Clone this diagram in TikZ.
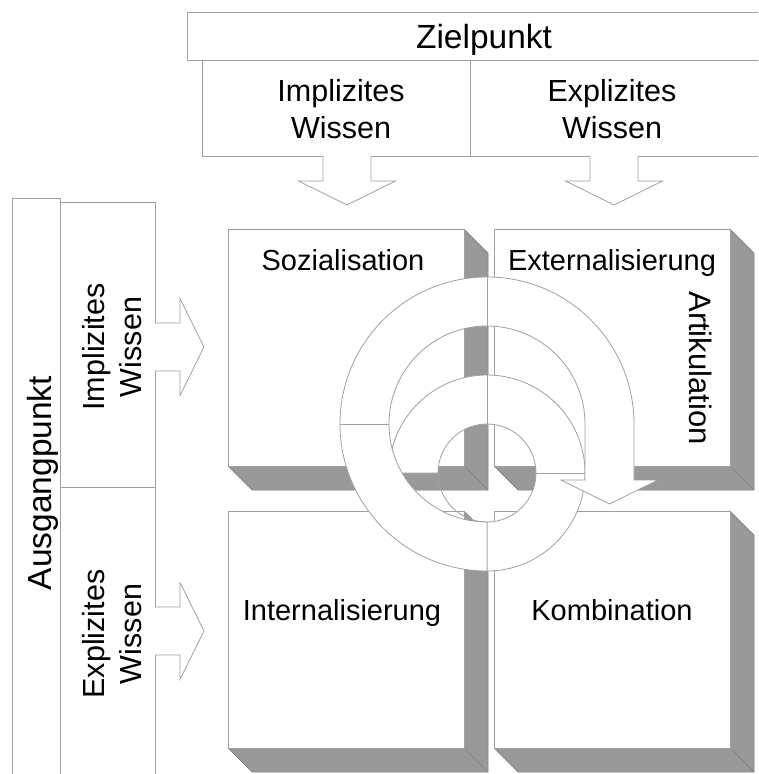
\documentclass[tikz,border=0pt]{standalone}
\usepackage{fontspec}
\setmainfont{Liberation Sans}
\definecolor{edge}{HTML}{A0A0A0}
\definecolor{shade}{HTML}{999999}
\definecolor{shadeedge}{HTML}{7F7F7F}
\newcommand\mycube[3]{%
  \filldraw[shadowpart] (#2+236,#3) -- ++(24,-24) -- ++(0,-237) -- ++(-236,0) -- ++(-24,24) -- ++(236,0) -- cycle;
  \draw[shadowfold] (#2+236,#3-237) -- ++(24,-24);
  \node[frame, minimum width=236pt, minimum height=237pt, anchor=north west] (#1) at (#2,#3) {};}
\newcommand\mydownarrow[1]{%
  \fill[white] (#1) ++(-23.6,1) rectangle ++(47.2,-2);
  \draw[arrowline] (#1) ++(-24,0) -- ++(0,-25) -- ++(-24.5,0) -- ++(48.5,-24) -- ++(48.5,24) -- ++(-24.5,0) -- ++(0,25);}
\newcommand\myrightarrow[1]{%
  \fill[white] (#1) ++(-1,23.6) rectangle ++(2,-47.2);
  \draw[arrowline] (#1) ++(0,24) -- ++(25,0) -- ++(0,24.5) -- ++(24,-48.5) -- ++(-24,-48.5) -- ++(0,24.5) -- ++(-25,0);}
\begin{document}
\begin{tikzpicture}[x=1pt,y=1pt,
  frame/.style={draw=edge, line width=0.8pt, fill=white},
  arrowline/.style={draw=edge, line width=0.8pt},
  shadowpart/.style={fill=shade, draw=shadeedge, line width=0.5pt},
  shadowfold/.style={draw=shadeedge, line width=0.5pt},
  band/.style={draw=edge, line width=0.8pt, fill=white},
  seam/.style={draw=edge, line width=0.8pt},
  head/.style={inner sep=0pt, font=\fontsize{33.5}{36}\selectfont},
  sub/.style={inner sep=0pt, align=center, font=\fontsize{30.5}{36.5}\selectfont},
  lbl/.style={inner sep=0pt, font=\fontsize{29}{34}\selectfont}]
\useasboundingbox (0,0) rectangle (758,-774);
\clip (0,0) rectangle (758,-774);
% header boxes
\node[frame, minimum width=594pt, minimum height=48pt, anchor=north west] (zbox) at (187,-12) {};
\node[frame, minimum width=268pt, minimum height=96pt, anchor=north west] (zimp) at (202,-60) {};
\node[frame, minimum width=300pt, minimum height=96pt, anchor=north west] (zexp) at (470,-60) {};
\node[head, anchor=base] (zt) at (484,-48) {Zielpunkt};
\node[sub] (zit) at (341,-109) {Implizites\\Wissen};
\node[sub] (zet) at (612,-109) {Explizites\\Wissen};
% left boxes
\node[frame, minimum width=48pt, minimum height=600pt, anchor=north west] (abox) at (12,-198) {};
\node[frame, minimum width=95pt, minimum height=285pt, anchor=north west] (aimp) at (60,-202) {};
\node[frame, minimum width=95pt, minimum height=340pt, anchor=north west] (aexp) at (60,-487) {};
\node[head, rotate=90, anchor=base] (at) at (51,-483) {Ausgangpunkt};
\node[sub, rotate=90] (ait) at (112,-347) {Implizites\\Wissen};
\node[sub, rotate=90] (aet) at (112,-634) {Explizites\\Wissen};
% block arrows
\coordinate (da1) at (347,-156);
\coordinate (da2) at (614,-156);
\coordinate (ra1) at (155,-347);
\coordinate (ra2) at (155,-631);
\mydownarrow{da1}
\mydownarrow{da2}
\myrightarrow{ra1}
\myrightarrow{ra2}
% 3D boxes
\mycube{soz}{228}{-229}
\mycube{ext}{494}{-229}
\mycube{int}{228}{-511}
\mycube{kom}{494}{-511}
\node[lbl, anchor=base] (sozt) at (343,-270) {Sozialisation};
\node[lbl, anchor=base] (extt) at (612,-270) {Externalisierung};
\node[lbl, anchor=base] (intt) at (342,-620) {Internalisierung};
\node[lbl, anchor=base] (komt) at (612,-620) {Kombination};
\node[lbl, font=\fontsize{31}{34}\selectfont, rotate=-90, anchor=base] (artt) at (689,-368) {Artikulation};
% spiral
\coordinate (c1) at (487,-424);
\coordinate (c2) at (487,-473);
\draw[band] ([shift={(180:98)}]c2) arc[start angle=180, end angle=-90, radius=98]
  -- ([shift={(-90:49)}]c2) arc[start angle=-90, end angle=180, radius=49] -- cycle;
\draw[seam] ([shift={(90:49)}]c2) -- ([shift={(90:98)}]c2);
\draw[seam] ([shift={(0:49)}]c2) -- ([shift={(0:98)}]c2);
\draw[seam] ([shift={(180:49)}]c2) arc[start angle=180, end angle=270, radius=49];
\draw[band] ([shift={(270:147)}]c1) arc[start angle=270, end angle=0, radius=147]
  -- ++(0,-56) -- ++(24,0) -- ++(-48.5,-24) -- ++(-48.5,24) -- ++(24,0) -- ++(0,56)
  arc[start angle=0, end angle=270, radius=98] -- cycle;
\draw[seam] ([shift={(180:98)}]c1) -- ([shift={(180:147)}]c1);
\draw[seam] ([shift={(90:98)}]c1) -- ([shift={(90:147)}]c1);
\end{tikzpicture}
\end{document}
